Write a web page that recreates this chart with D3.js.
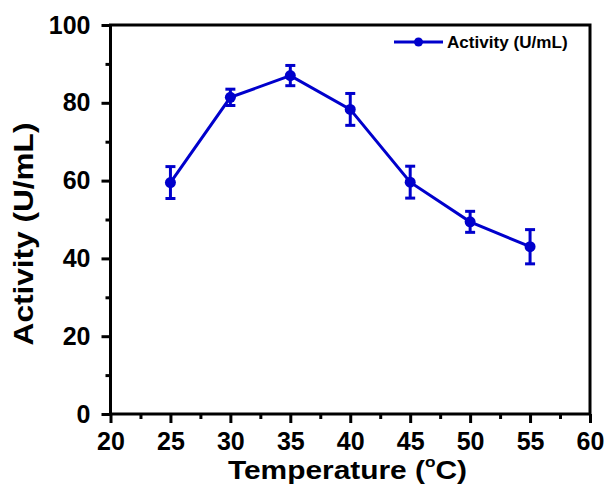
<!DOCTYPE html>
<html><head><meta charset="utf-8">
<script src="https://cdn.jsdelivr.net/npm/d3@7"></script>
<style>body{margin:0;background:#fff}svg{display:block}text{font-family:"Liberation Sans",Arial,sans-serif;font-weight:bold}</style>
</head><body><div id="c"></div>
<script>
const temperatures = [25, 30, 35, 40, 45, 50, 55];
const activity = [59.5, 81.4, 87.0, 78.3, 59.6, 49.4, 43.0];
const errors = [4.1, 2.1, 2.6, 4.1, 4.1, 2.7, 4.4];
const xTicks = [20, 25, 30, 35, 40, 45, 50, 55, 60];
const yTicks = [0, 20, 40, 60, 80, 100];
const seriesName = "Activity (U/mL)";

const W = 606, H = 490;
const m = {l: 110.5, r: 16, t: 25, b: 76};
const color = "#0000CC";
const FONT = '"Liberation Sans",Arial,sans-serif';
const svg = d3.select("#c").append("svg").attr("width", W).attr("height", H);
const x = d3.scaleLinear().domain([20, 60]).range([m.l, W - m.r]);
const y = d3.scaleLinear().domain([0, 100]).range([H - m.b, m.t]);

const xMinor = d3.range(22.5, 60, 5);
const yMinor = d3.range(10, 100, 20);
const gx = svg.append("g").attr("transform", `translate(0,${y(0)})`);
gx.call(d3.axisBottom(x).tickValues(xTicks).tickSize(9).tickPadding(9).tickFormat(d3.format("d")));
gx.append("g").call(d3.axisBottom(x).tickValues(xMinor).tickSize(5).tickFormat(""));
const gy = svg.append("g").attr("transform", `translate(${x(20)},0)`);
gy.call(d3.axisLeft(y).tickValues(yTicks).tickSize(9).tickPadding(11).tickFormat(d3.format("d")));
gy.append("g").call(d3.axisLeft(y).tickValues(yMinor).tickSize(5).tickFormat(""));
svg.selectAll(".domain").remove();
svg.selectAll(".tick line").attr("stroke", "#000").attr("stroke-width", 3);
svg.selectAll(".tick text").attr("font-size", 25).attr("fill", "#000").attr("font-family", FONT).attr("font-weight", "bold");

svg.append("rect").attr("x", x(20)).attr("y", y(100)).attr("width", x(60) - x(20)).attr("height", y(0) - y(100))
  .attr("fill", "none").attr("stroke", "#000").attr("stroke-width", 3);

const pts = temperatures.map((t, i) => ({t, v: activity[i], e: errors[i]}));
svg.append("path").datum(pts).attr("fill", "none").attr("stroke", color).attr("stroke-width", 3)
  .attr("d", d3.line().x(d => x(d.t)).y(d => y(d.v)));
const eb = svg.append("g").attr("stroke", color).attr("stroke-width", 3);
pts.forEach(d => {
  eb.append("line").attr("x1", x(d.t)).attr("x2", x(d.t)).attr("y1", y(d.v - d.e)).attr("y2", y(d.v + d.e));
  eb.append("line").attr("x1", x(d.t) - 5).attr("x2", x(d.t) + 5).attr("y1", y(d.v - d.e)).attr("y2", y(d.v - d.e));
  eb.append("line").attr("x1", x(d.t) - 5).attr("x2", x(d.t) + 5).attr("y1", y(d.v + d.e)).attr("y2", y(d.v + d.e));
});
svg.append("g").selectAll("circle").data(pts).join("circle")
  .attr("cx", d => x(d.t)).attr("cy", d => y(d.v)).attr("r", 5.5).attr("fill", color);

// legend
const lg = svg.append("g").attr("transform", "translate(394,42)");
lg.append("line").attr("x1", 0).attr("x2", 49).attr("y1", 0).attr("y2", 0).attr("stroke", color).attr("stroke-width", 3);
lg.append("circle").attr("cx", 24.5).attr("cy", 0).attr("r", 4.5).attr("fill", color);
lg.append("text").attr("transform", "translate(53,6) scale(1.07,1)").attr("font-size", 16).attr("fill", "#000").text(seriesName);

// axis titles
const xt = svg.append("text").attr("transform", `translate(${(228 + 467) / 2},479) scale(1.15,1)`).attr("text-anchor", "middle")
  .attr("font-size", 26).attr("fill", "#000");
xt.append("tspan").text("Temperature (");
xt.append("tspan").attr("font-size", 15).attr("dy", -12).text("o");
xt.append("tspan").attr("dy", 12).text("C)");
svg.append("text").attr("transform", `translate(33,234) rotate(-90) scale(1.17,1)`).attr("text-anchor", "middle")
  .attr("font-size", 27).attr("fill", "#000").text("Activity (U/mL)");
</script></body></html>
